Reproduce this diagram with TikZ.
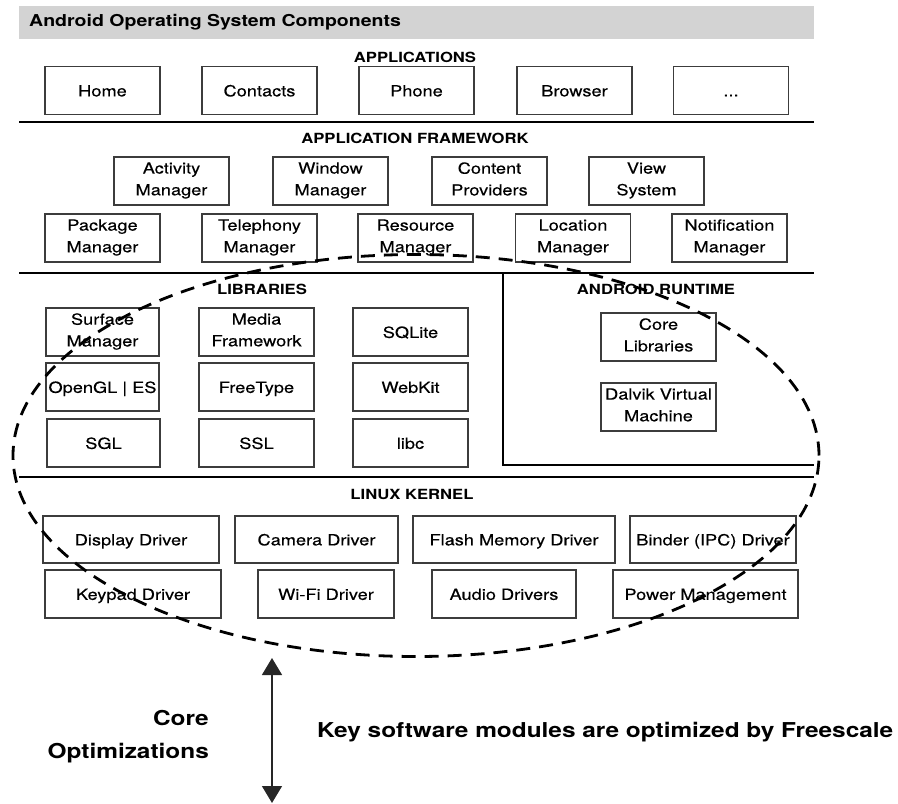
\documentclass[tikz,border=0pt]{standalone}
\usepackage{fontspec}
\setmainfont{TeX Gyre Heros}[FakeStretch=1.19, UprightFeatures={FakeBold=0.3}]
\usetikzlibrary{arrows.meta}
\definecolor{bargray}{RGB}{211,211,211}
\definecolor{boxline}{RGB}{60,60,60}
\newcommand\mytopstrut{\rule{0pt}{16pt}}
\newcommand\mybotstrut{\rule[-4.3pt]{0pt}{4.3pt}}
\tikzset{
  comp/.style={draw=boxline, line width=1.2pt, minimum width=115pt, minimum height=48pt,
    inner sep=0pt, align=center, font=\fontsize{15.3}{21.7}\selectfont,
    execute at begin node=\mytopstrut, execute at end node=\mybotstrut},
  hdr/.style={inner sep=0pt, font=\bfseries\fontsize{14}{17}\selectfont},
  sep/.style={line width=2.8pt, black},
  ell/.style={line width=2.8pt, dash pattern=on 14pt off 9pt},
  big/.style={inner sep=0pt, font=\bfseries\fontsize{20.5}{33}\selectfont}
}
\begin{document}
\begin{tikzpicture}[x=1pt,y=-1pt]
\useasboundingbox (0,0) rectangle (898,804);
% title bar
\fill[bargray] (19,6) rectangle (814,39);
\node[anchor=west, inner sep=0pt, font=\bfseries\fontsize{16.4}{20}\selectfont] (title) at (29,22.5) {Android Operating System Components};
% separators
\coordinate (s1a) at (19,122); \coordinate (s1b) at (814,122);
\coordinate (s2a) at (19,273); \coordinate (s2b) at (814,273);
\coordinate (s3a) at (19,477); \coordinate (s3b) at (814,477);
\draw[sep] (s1a) -- (s1b);
\draw[sep] (s2a) -- (s2b);
\draw[sep] (s3a) -- (s3b);
\coordinate (rta) at (503,273); \coordinate (rtb) at (503,465); \coordinate (rtc) at (814,465);
\draw[line width=2.4pt] (rta) -- (rtb) -- (rtc);
% headers
\node[hdr] (happ) at (415,57) {APPLICATIONS};
\node[hdr] (hfw) at (415,138) {APPLICATION FRAMEWORK};
\node[hdr] (hlib) at (262,289) {LIBRARIES};
\node[hdr] (hrt) at (656,289) {ANDROID RUNTIME};
\node[hdr] (hk) at (412,494) {LINUX KERNEL};
% applications
\begin{scope}[every node/.append style={minimum height=41pt}]
\node[comp] (home) at (102.5,90.5) {Home};
\node[comp] (contacts) at (259.5,90.5) {Contacts};
\node[comp] (phone) at (416.5,90.5) {Phone};
\node[comp] (browser) at (574.5,90.5) {Browser};
\node[comp] (more) at (731,90.5) {...};
\end{scope}
% framework
\node[comp] (activity) at (171.5,181) {Activity\\Manager};
\node[comp] (window) at (330.5,181) {Window\\Manager};
\node[comp] (content) at (489.5,181) {Content\\Providers};
\node[comp] (view) at (646.5,181) {View\\System};
\node[comp] (package) at (102.5,238) {Package\\Manager};
\node[comp] (telephony) at (259.5,238) {Telephony\\Manager};
\node[comp] (resource) at (415.5,238) {Resource\\Manager};
\node[comp] (location) at (573,238) {Location\\Manager};
\node[comp] (notification) at (729.5,238) {Notification\\Manager};
% libraries
\node[comp, minimum width=113pt] (surface) at (102.5,332) {Surface\\Manager};
\node[comp] (media) at (256.5,332) {Media\\Framework};
\node[comp] (sqlite) at (410.5,332) {SQLite};
\node[comp, minimum width=113pt] (opengl) at (102.5,387) {OpenGL | ES};
\node[comp] (freetype) at (256.5,387) {FreeType};
\node[comp] (webkit) at (410.5,387) {WebKit};
\node[comp, minimum width=113pt] (sgl) at (103.5,443) {SGL};
\node[comp] (ssl) at (256.5,443) {SSL};
\node[comp] (libc) at (410.5,443) {libc};
% runtime
\node[comp] (core) at (658.5,337) {Core\\Libraries};
\node[comp] (dalvik) at (658.5,407) {Dalvik Virtual\\Machine};
% kernel
\node[comp, minimum width=176pt, minimum height=47pt] (display) at (131,539.5) {Display Driver};
\node[comp, minimum width=163pt, minimum height=47pt] (camera) at (316.5,539.5) {Camera Driver};
\node[comp, minimum width=202pt, minimum height=47pt] (flash) at (514,539.5) {Flash Memory Driver};
\node[comp, minimum width=166pt, minimum height=47pt] (binder) at (713,539.5) {Binder (IPC) Driver};
\node[comp, minimum width=176pt] (keypad) at (133,594) {Keypad Driver};
\node[comp, minimum width=136pt] (wifi) at (326,594) {Wi-Fi Driver};
\node[comp, minimum width=144pt] (audio) at (504,594) {Audio Drivers};
\node[comp, minimum width=185pt] (power) at (705.5,594) {Power Management};
% dashed ellipse
\coordinate (ec) at (416,455.5);
\draw[ell] (ec) ellipse [x radius=403pt, y radius=201pt];
% arrow
\coordinate (atop) at (272,658);
\coordinate (abot) at (272,803);
\draw[line width=1.3pt, black!85, {Triangle[width=20pt,length=17pt]}-{Triangle[width=20pt,length=17pt]}] (atop) -- (abot);
% bottom texts
\node[big, anchor=east, align=right] (coreopt) at (209,736.5) {Core\\Optimizations};
\node[big, anchor=west] (keytext) at (317,732) {Key software modules are optimized by Freescale};
\end{tikzpicture}
\end{document}
